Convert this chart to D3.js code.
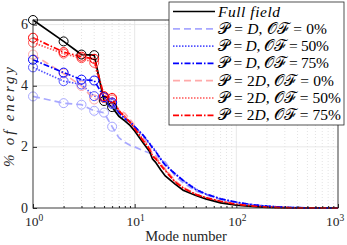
<!DOCTYPE html>
<html><head><meta charset="utf-8">
<script src="https://cdn.jsdelivr.net/npm/d3@7"></script>
<style>body{margin:0;background:#fff}svg{display:block}</style>
</head><body>
<svg id="c" width="347" height="245"></svg>
<script>
const modes = [1,2,3,4,5,6,7,8,9,10,12,14,15,16,18,20,25,30,40,50,70,100,150,200,300,500,1000];
const fullField = [6.15,5.45,5.02,5.0,3.5,3.3,3.0,2.85,2.7,2.52,2.15,1.85,1.6,1.5,1.25,1.05,0.78,0.58,0.41,0.3,0.17,0.09,0.045,0.022,0.008,0.002,0];
const pD0   = [3.65,3.43,3.38,3.18,3.12,2.66,2.3,2.15,2.05,2.0,1.88,1.8,1.76,1.72,1.62,1.5,1.05,0.82,0.56,0.43,0.28,0.17,0.09,0.05,0.02,0.005,0];
const pD50  = [4.6,4.15,4.04,3.66,3.6,3.4,3.1,2.92,2.8,2.66,2.38,2.1,2.0,1.88,1.62,1.42,1.12,0.9,0.62,0.46,0.3,0.19,0.1,0.06,0.02,0.005,0];
const pD75  = [4.85,4.43,4.2,4.17,3.63,3.45,3.12,2.92,2.82,2.66,2.4,2.12,1.95,1.86,1.6,1.4,1.12,0.9,0.6,0.46,0.3,0.19,0.1,0.06,0.02,0.005,0];
const p2D0  = [5.02,4.4,3.99,3.55,3.6,3.45,3.2,3.1,2.9,2.7,2.3,2.0,1.75,1.7,1.45,1.28,0.9,0.68,0.46,0.34,0.21,0.12,0.06,0.03,0.01,0.003,0];
const p2D50 = [5.41,5.05,4.9,4.75,3.6,3.55,3.2,3.0,2.82,2.62,2.25,1.95,1.7,1.65,1.42,1.25,0.86,0.66,0.45,0.34,0.21,0.12,0.06,0.03,0.01,0.003,0];
const p2D75 = [5.57,5.1,4.95,4.88,3.66,3.6,3.18,2.98,2.8,2.6,2.22,1.92,1.68,1.62,1.4,1.22,0.85,0.65,0.44,0.34,0.22,0.12,0.06,0.03,0.01,0.003,0];
const yTicks = [0,2,4,6];
const xTicks = [1,10,100,1000];
const xTickExp = ["0","1","2","3"];

const series = [
  {vals: fullField, color:"#000000", dash:null, w:62, leg:[["Full field","i"]]},
  {vals: pD0,  color:"#a8a8ff", dash:"7,4", w:109, leg:[["𝒫","n"],[" = ","n"],["D","i"],[", 𝒪ℱ = ","n"],[" 0%","n"]]},
  {vals: pD50, color:"#5555ff", dash:"1.5,1.5", w:111, leg:[["𝒫","n"],[" = ","n"],["D","i"],[", 𝒪ℱ = ","n"],[" 50%","n"]]},
  {vals: pD75, color:"#0000ff", dash:"6,2,1.5,2", w:111, leg:[["𝒫","n"],[" = ","n"],["D","i"],[", 𝒪ℱ = ","n"],[" 75%","n"]]},
  {vals: p2D0, color:"#ffaaaa", dash:"7,4", w:116, leg:[["𝒫","n"],[" = 2","n"],["D","i"],[", 𝒪ℱ = ","n"],[" 0%","n"]]},
  {vals: p2D50,color:"#ff5555", dash:"1.5,1.5", w:123, leg:[["𝒫","n"],[" = 2","n"],["D","i"],[", 𝒪ℱ = ","n"],[" 50%","n"]]},
  {vals: p2D75,color:"#ff0000", dash:"6,2,1.5,2", w:123, leg:[["𝒫","n"],[" = 2","n"],["D","i"],[", 𝒪ℱ = ","n"],[" 75%","n"]]}
];

const svg = d3.select("#c");
const L=33, R=338, T=20, B=208;
const x = d3.scaleLog().domain([1,1000]).range([L,R]);
const y = d3.scaleLinear().domain([0,6.15]).range([B,T]);
const font = "Liberation Serif, DejaVu Serif, serif";

// grid
const minor = [];
for (let d=1; d<1000; d*=10) for (let k=2;k<=9;k++) minor.push(d*k);
svg.append("g").selectAll("line").data(minor).join("line")
  .attr("x1",d=>x(d)).attr("x2",d=>x(d)).attr("y1",T).attr("y2",B)
  .attr("stroke","#d0d0d0").attr("stroke-width",0.6).attr("stroke-dasharray","1,2");
svg.append("g").selectAll("line").data(xTicks.slice(1,3)).join("line")
  .attr("x1",d=>x(d)).attr("x2",d=>x(d)).attr("y1",T).attr("y2",B)
  .attr("stroke","#e2e2e2").attr("stroke-width",0.8);
svg.append("g").selectAll("line").data(yTicks.slice(1)).join("line")
  .attr("x1",L).attr("x2",R).attr("y1",d=>y(d)).attr("y2",d=>y(d))
  .attr("stroke","#e2e2e2").attr("stroke-width",0.8);

// lines
const line = d3.line().x((d,i)=>x(modes[i])).y(d=>y(d));
const order = [1,4,2,5,0,3,6];
order.forEach(k=>{
  const s = series[k];
  svg.append("path").datum(s.vals).attr("d",line).attr("fill","none")
    .attr("stroke",s.color).attr("stroke-width",1.7)
    .attr("stroke-dasharray",s.dash);
});
order.forEach(k=>{
  const s = series[k];
  svg.append("g").selectAll("circle").data(s.vals.slice(0,6)).join("circle")
    .attr("cx",(d,i)=>x(modes[i])).attr("cy",d=>y(d)).attr("r",4.5)
    .attr("fill","none").attr("stroke",s.color).attr("stroke-width",1);
});

// axes box
const ax = "#262626";
svg.append("rect").attr("x",L).attr("y",T).attr("width",R-L).attr("height",B-T)
  .attr("fill","none").attr("stroke",ax).attr("stroke-width",0.9);
const xa = svg.append("g").attr("transform",`translate(0,${B})`)
  .call(d3.axisBottom(x).tickValues(xTicks).tickSize(-4).tickFormat(""));
const xm = svg.append("g").attr("transform",`translate(0,${B})`)
  .call(d3.axisBottom(x).tickValues(minor).tickSize(-2).tickFormat(""));
const ya = svg.append("g").attr("transform",`translate(${L},0)`)
  .call(d3.axisLeft(y).tickValues(yTicks).tickSize(-4).tickFormat(""));
[xa,xm,ya].forEach(g=>{g.select(".domain").remove(); g.selectAll("line").attr("stroke",ax);});

// tick labels
const xl = svg.append("g").selectAll("text").data(xTicks).join("text")
  .attr("x",(d,i)=>Math.min(x(d)+1, 335)).attr("y",226).attr("text-anchor","middle")
  .attr("font-family",font).attr("font-size",13.5).attr("fill",ax);
xl.append("tspan").text("10");
xl.append("tspan").attr("dy",-5.5).attr("font-size",9.5).text((d,i)=>xTickExp[i]);
svg.append("g").selectAll("text").data(yTicks).join("text")
  .attr("x",L-5).attr("y",d=>y(d)+4.5).attr("text-anchor","end")
  .attr("font-family",font).attr("font-size",14).attr("fill",ax).text(d=>d);

svg.append("text").attr("x",186).attr("y",241).attr("text-anchor","middle")
  .attr("font-family",font).attr("font-size",14.5).attr("fill",ax).text("Mode number");
svg.append("text").attr("transform","translate(14,117) rotate(-90)").attr("text-anchor","middle")
  .attr("font-family",font).attr("font-size",15).attr("font-style","italic").attr("fill",ax)
  .attr("textLength",100).attr("lengthAdjust","spacing").text("% of energy");

// legend
const lg = svg.append("g");
lg.append("rect").attr("x",169).attr("y",2).attr("width",175).attr("height",123)
  .attr("fill","#fff").attr("stroke",ax).attr("stroke-width",0.8);
series.forEach((s,i)=>{
  const cy = 11.5 + i*17.3;
  lg.append("line").attr("x1",173).attr("x2",215).attr("y1",cy).attr("y2",cy)
    .attr("stroke",s.color).attr("stroke-width",1.7).attr("stroke-dasharray",s.dash);
  const t = lg.append("text").attr("x",218).attr("y",cy+5)
    .attr("font-family",font).attr("font-size",15.5).attr("fill","#000")
    .attr("textLength",s.w).attr("lengthAdjust","spacing");
  s.leg.forEach(p=>{
    t.append("tspan").attr("font-style",p[1]==="i"?"italic":"normal").text(p[0]);
  });
});
</script>
</body></html>
